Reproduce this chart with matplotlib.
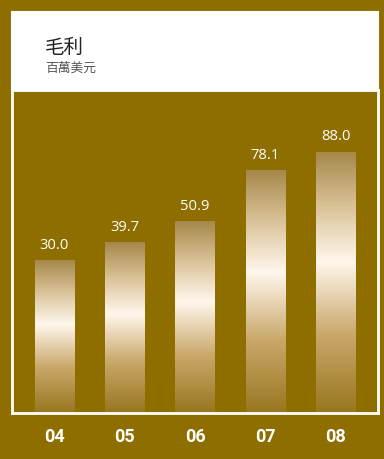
import numpy as np
import matplotlib.pyplot as plt
from matplotlib.colors import LinearSegmentedColormap
from matplotlib.patches import Rectangle

plt.rcParams['font.family'] = ['Noto Sans CJK TC', 'DejaVu Sans']

# gross profit, millions USD
years = ['04', '05', '06', '07', '08']
profit = [30.0, 39.7, 50.9, 78.1, 88.0]

gold = '#8F6E00'
y_lo, y_hi = -50.9, 121.0
bar_w = 0.56

fig = plt.figure(figsize=(3.84, 4.59), dpi=100, facecolor=gold)
W, H = 384, 459

# header box
fig.patches.append(Rectangle((12 / W, 1 - 90 / H), 366 / W, 78 / H,
                             transform=fig.transFigure, facecolor='white',
                             edgecolor='white', lw=1.5))
fig.text(45 / W, 1 - 47 / H, '毛利', fontsize=14, color='#222222', va='center')
fig.text(45 / W, 1 - 68 / H, '百萬美元', fontsize=9.2, color='#555555', va='center')

ax = fig.add_axes([12 / W, 1 - 413 / H, 366 / W, 323 / H])
ax.set_facecolor(gold)
for s in ax.spines.values():
    s.set_color('white')
    s.set_linewidth(2)

# vertical gradient for the bars: dark at ends, cream highlight a bit above middle
cmap = LinearSegmentedColormap.from_list('goldbar', [
    (0.0, '#987620'),
    (0.3, '#C9A86A'),
    (0.58, '#FFF7EC'),
    (0.8, '#D8C095'),
    (1.0, '#A6884A'),
])
grad = np.linspace(0, 1, 256).reshape(-1, 1)

x = np.arange(len(years))
for xi, v in zip(x, profit):
    ax.imshow(grad, cmap=cmap, origin='lower', aspect='auto',
              extent=[xi - bar_w / 2, xi + bar_w / 2, y_lo, v], zorder=2)
    ax.text(xi, v + 4.0, f'{v:.1f}', ha='center', va='bottom',
            color='white', fontsize=10.6, family='Open Sans')

ax.set_xlim(-0.6, 4.6)
ax.set_ylim(y_lo, y_hi)
ax.set_yticks([])
ax.set_xticks(x)
ax.set_xticklabels(years, family='Roboto', fontweight='bold', fontsize=13, color='white')
ax.tick_params(axis='x', length=0, pad=11)

fig.savefig('out.png', dpi=100, facecolor=gold)
